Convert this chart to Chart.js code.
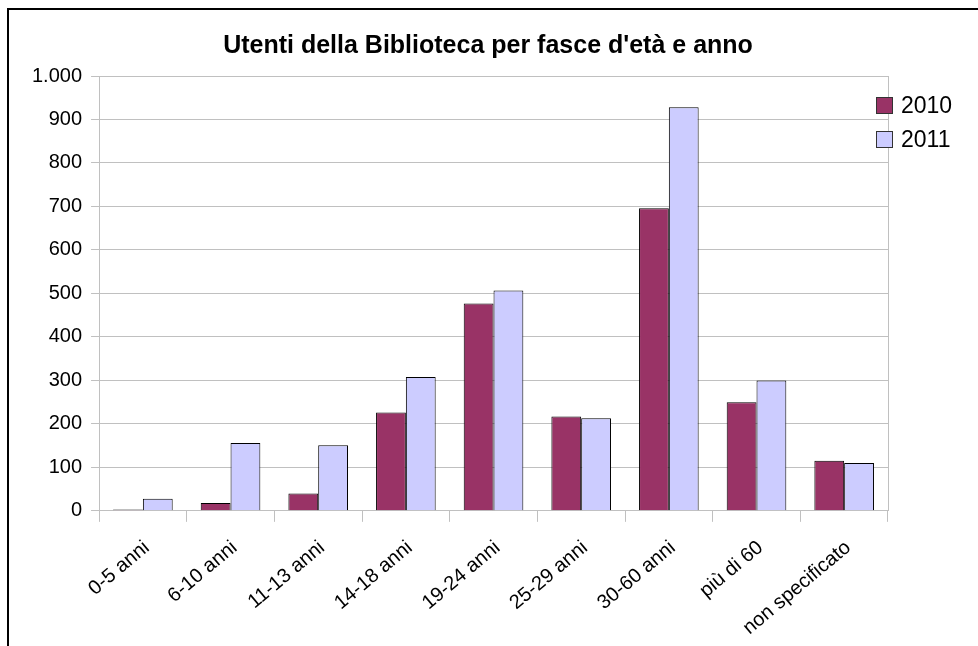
<!DOCTYPE html>
<html>
<head>
<meta charset="utf-8">
<script src="https://cdn.jsdelivr.net/npm/chart.js@4"></script>
<style>
  body { margin: 0; background: #fff; }
  canvas { display: block; }
</style>
</head>
<body>
<canvas id="usersChart" width="978" height="646"></canvas>
<script>
// data
const categories = ['0-5 anni', '6-10 anni', '11-13 anni', '14-18 anni', '19-24 anni', '25-29 anni', '30-60 anni', 'più di 60', 'non specificato'];
const users2010 = [3, 18, 40, 226, 477, 217, 696, 250, 115];
const users2011 = [28, 156, 151, 308, 507, 213, 928, 300, 110];
const seriesNames = ['2010', '2011'];
const chartTitle = "Utenti della Biblioteca per fasce d'età e anno";

const FONT = '"Liberation Sans", Arial, sans-serif';
const GRID = '#c0c0c0';

// thousands separator in Italian style (1.000)
const formatTick = (v) => String(v).replace(/\B(?=(\d{3})+(?!\d))/g, '.');

// white background, black frame on top/left, title centred on the page
const framePlugin = {
  id: 'frame',
  beforeDraw: (chart) => {
    const ctx = chart.ctx;
    ctx.save();
    ctx.fillStyle = '#fff';
    ctx.fillRect(0, 0, chart.width, chart.height);
    ctx.strokeStyle = '#000';
    ctx.lineWidth = 2;
    ctx.beginPath();
    ctx.moveTo(7, 9);
    ctx.lineTo(chart.width, 9);
    ctx.moveTo(8, 8);
    ctx.lineTo(8, chart.height);
    ctx.stroke();

    ctx.fillStyle = '#000';
    ctx.font = 'bold 25px ' + FONT;
    ctx.textAlign = 'center';
    ctx.textBaseline = 'middle';
    ctx.fillText(chartTitle, 488, 46);
    ctx.restore();
  },
  afterDraw: (chart) => {
    // right edge of the plot area
    const { ctx, chartArea } = chart;
    ctx.save();
    ctx.strokeStyle = GRID;
    ctx.lineWidth = 1;
    ctx.beginPath();
    ctx.moveTo(Math.round(chartArea.right) + 0.5, chartArea.top);
    ctx.lineTo(Math.round(chartArea.right) + 0.5, chartArea.bottom);
    ctx.stroke();
    ctx.restore();
  }
};

// legend sits over the right edge of the plot, like the original
const legendPlugin = {
  id: 'sideLegend',
  afterDraw: (chart) => {
    const ctx = chart.ctx;
    ctx.save();
    ctx.font = '23px ' + FONT;
    ctx.textBaseline = 'middle';
    chart.data.datasets.forEach((ds, i) => {
      const y = 97 + i * 34;
      ctx.fillStyle = ds.backgroundColor;
      ctx.fillRect(876, y, 17, 17);
      ctx.strokeStyle = '#333';
      ctx.lineWidth = 1;
      ctx.strokeRect(876.5, y + 0.5, 16, 16);
      ctx.fillStyle = '#000';
      ctx.fillText(ds.label, 901, y + 10);
    });
    ctx.restore();
  }
};

new Chart(document.getElementById('usersChart'), {
  type: 'bar',
  data: {
    labels: categories,
    datasets: [
      {
        label: seriesNames[0],
        data: users2010,
        backgroundColor: '#993366',
        borderColor: '#000',
        borderWidth: 1,
        categoryPercentage: 0.68,
        barPercentage: 1.0
      },
      {
        label: seriesNames[1],
        data: users2011,
        backgroundColor: '#ccccff',
        borderColor: '#000',
        borderWidth: 1,
        categoryPercentage: 0.68,
        barPercentage: 1.0
      }
    ]
  },
  options: {
    responsive: false,
    animation: false,
    layout: {
      padding: { left: 23, right: 90, top: 76, bottom: -8 }
    },
    plugins: {
      legend: { display: false },
      tooltip: { enabled: false },
      title: { display: false }
    },
    scales: {
      x: {
        offset: true,
        grid: {
          offset: true,
          drawOnChartArea: false,
          color: GRID,
          tickLength: 11
        },
        border: { color: GRID },
        ticks: {
          color: '#000',
          font: { family: FONT, size: 20 },
          minRotation: 40,
          maxRotation: 40,
          autoSkip: false,
          padding: 14,
          labelOffset: 4
        }
      },
      y: {
        min: 0,
        max: 1000,
        grid: { color: GRID, tickLength: 8 },
        border: { color: GRID },
        ticks: {
          stepSize: 100,
          color: '#000',
          font: { family: FONT, size: 20 },
          padding: 9,
          callback: formatTick
        }
      }
    }
  },
  plugins: [framePlugin, legendPlugin]
});
</script>
</body>
</html>
